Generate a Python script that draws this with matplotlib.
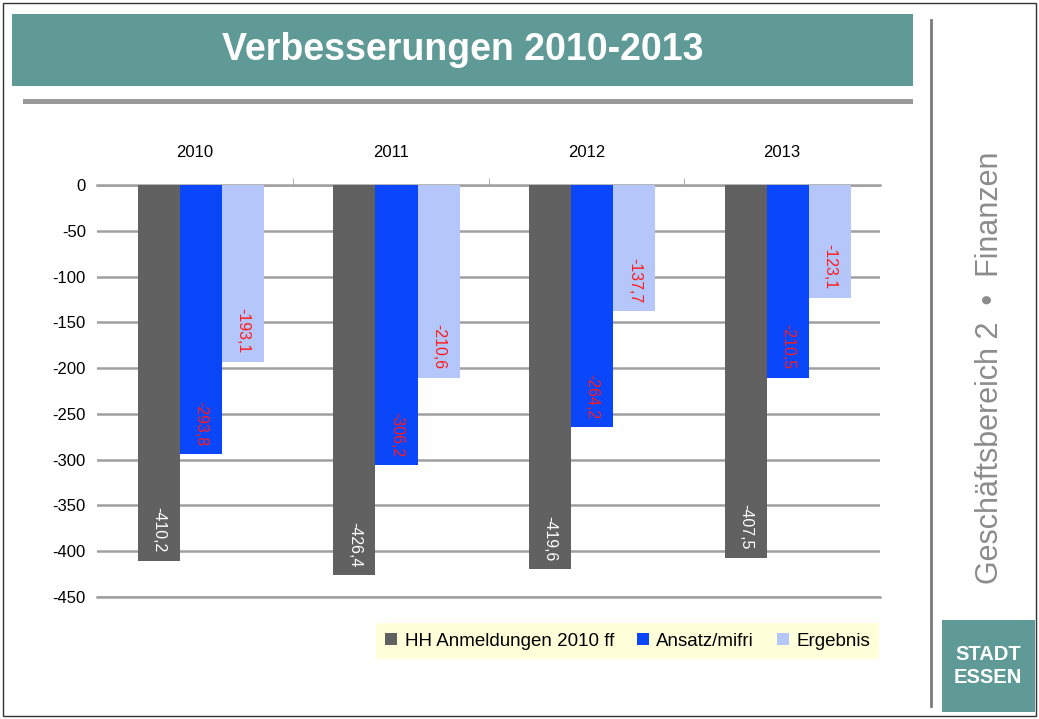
import numpy as np
import matplotlib
matplotlib.use("Agg")
import matplotlib.pyplot as plt
from matplotlib.patches import Rectangle

plt.rcParams['font.family'] = ['Liberation Sans', 'DejaVu Sans']
plt.rcParams['axes.unicode_minus'] = False

# Daten
jahre = ["2010", "2011", "2012", "2013"]
serien = ["HH Anmeldungen 2010 ff", "Ansatz/mifri", "Ergebnis"]
hh_anmeldungen = [-410.2, -426.4, -419.6, -407.5]
ansatz_mifri = [-293.8, -306.2, -264.2, -210.5]
ergebnis = [-193.1, -210.6, -137.7, -123.1]
y_ticks = [0, -50, -100, -150, -200, -250, -300, -350, -400, -450]

farben = ["#616161", "#0A46FA", "#B4C6FA"]
label_farben = ["white", "#FF1A1A", "#FF1A1A"]

W, H = 1039, 719
fig = plt.figure(figsize=(W / 100, H / 100), dpi=100)

def box(x0, y0, x1, y1):
    # pixel -> figure coords
    return [x0 / W, 1 - y1 / H, (x1 - x0) / W, (y1 - y0) / H]

# Rahmen, Titelbalken, Linien
fig.patches.append(Rectangle((3 / W, 3 / H), (W - 6) / W, (H - 6) / H, transform=fig.transFigure,
                             fill=False, edgecolor="#333333", lw=1))
fig.patches.append(Rectangle((12 / W, 1 - 86 / H), (913 - 12) / W, (86 - 14) / H,
                             transform=fig.transFigure, facecolor="#5F9A97", edgecolor="none"))
fig.text((12 + 913) / 2 / W, 1 - 50 / H, "Verbesserungen 2010-2013", color="white",
         fontsize=27, fontweight="bold", ha="center", va="center")
fig.patches.append(Rectangle((23 / W, 1 - 104 / H), (913 - 23) / W, 5 / H,
                             transform=fig.transFigure, facecolor="#9A9A9A", edgecolor="none"))
fig.lines.append(plt.Line2D([931 / W, 931 / W], [1 - 20 / H, 1 - 706 / H], transform=fig.transFigure,
                            color="#7A7A7A", lw=2))

# rechte Leiste
fig.text(990 / W, 1 - 368 / H, "Geschäftsbereich 2  •  Finanzen", color="#8C8C8C",
         fontsize=22, rotation=90, ha="center", va="center")
fig.patches.append(Rectangle((942 / W, 1 - 712 / H), (1035 - 942) / W, (712 - 620) / H,
                             transform=fig.transFigure, facecolor="#5F9A97", edgecolor="none"))
fig.text(988 / W, 1 - 666 / H, "STADT\nESSEN", color="white", fontsize=14.5, fontweight="bold",
         ha="center", va="center", linespacing=1.25)

# Diagramm
ax = fig.add_axes(box(97, 185, 880, 597))
x = np.arange(len(jahre))
breite = 0.215
werte = [hh_anmeldungen, ansatz_mifri, ergebnis]
for i, (name, vals) in enumerate(zip(serien, werte)):
    pos = x + (i - 1) * breite + 0.03
    bars = ax.bar(pos, vals, breite, color=farben[i], label=name, zorder=3)
    for b, v in zip(bars, vals):
        ax.text(b.get_x() + b.get_width() / 2, v + 9, f"{v:.1f}".replace(".", ","),
                rotation=-90, ha="center", va="bottom", color=label_farben[i], fontsize=11.5, zorder=4)

ax.set_xlim(-0.5, 3.5)
ax.set_ylim(-450, 0)
ax.set_yticks(y_ticks)
ax.tick_params(axis="y", length=0, labelsize=12, pad=8)
ax.grid(axis="y", color="#A0A0A0", lw=1.8, zorder=0)
ax.xaxis.tick_top()
ax.set_xticks(x)
ax.set_xticklabels(jahre, fontsize=12)
ax.tick_params(axis="x", length=0, pad=18)
ax.set_xticks([0.5, 1.5, 2.5], minor=True)
ax.tick_params(axis="x", which="minor", length=5, color="#A0A0A0", direction="out")
for s in ["left", "right"]:
    ax.spines[s].set_visible(False)
for s in ["top", "bottom"]:
    ax.spines[s].set_color("#A0A0A0")
    ax.spines[s].set_linewidth(1.8)

leg = fig.legend(loc="center", bbox_to_anchor=((370 + 885) / 2 / W, 1 - 641 / H), ncol=3,
                 fontsize=13.5, frameon=True, fancybox=False, handlelength=0.65, handleheight=0.65,
                 handletextpad=0.4, columnspacing=1.2, borderpad=0.5, borderaxespad=0)
leg.get_frame().set_facecolor("#FFFFD0")
leg.get_frame().set_edgecolor("none")

fig.savefig("out.png", dpi=100)
